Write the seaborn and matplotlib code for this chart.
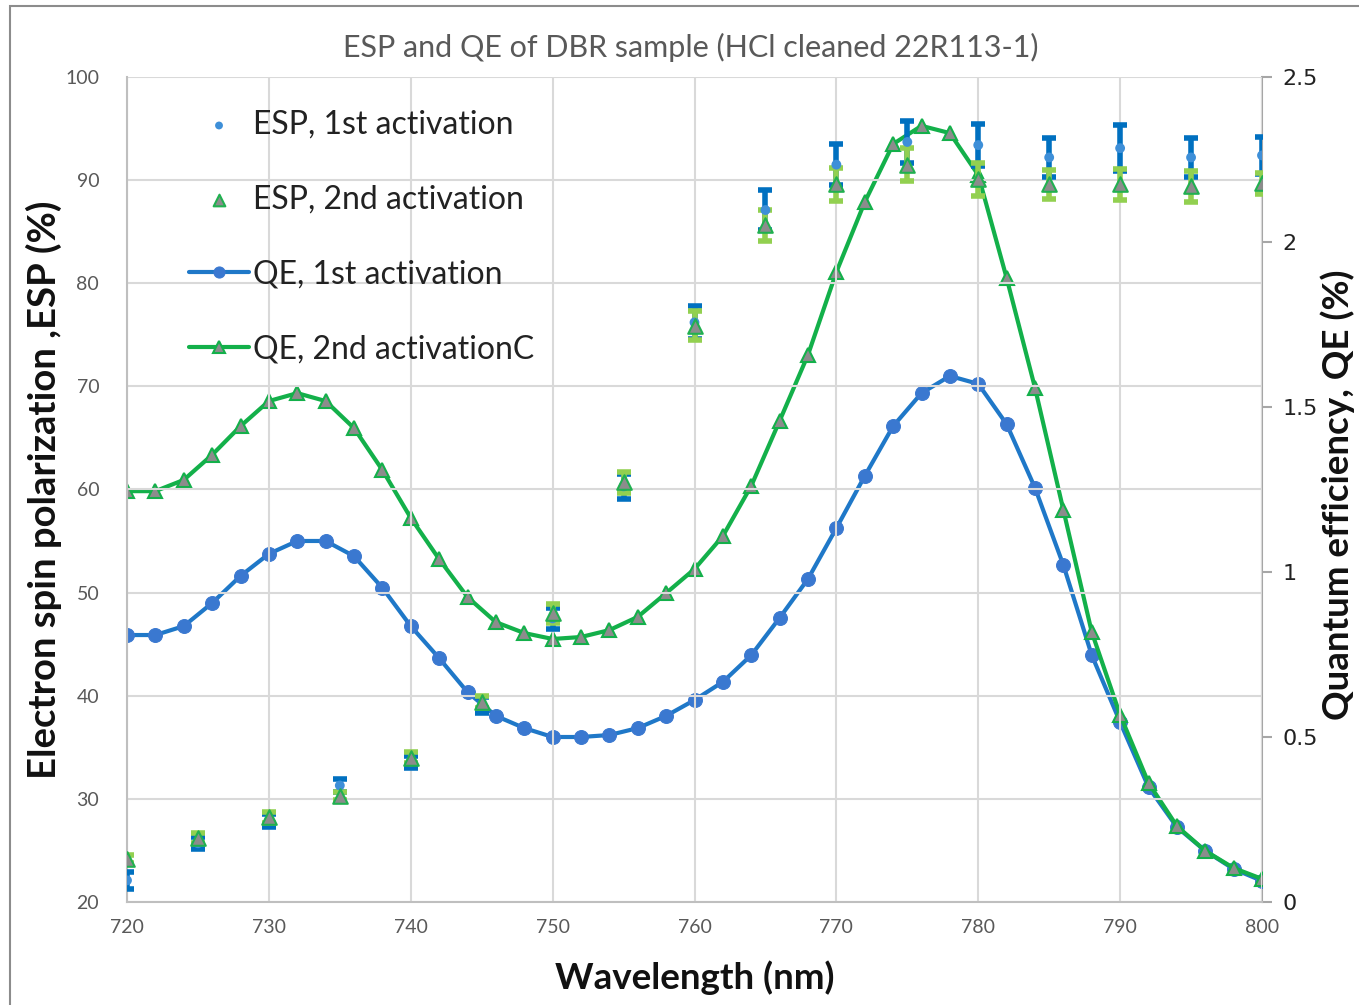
import numpy as np
import pandas as pd
import matplotlib
matplotlib.use("Agg")
import matplotlib.pyplot as plt
from matplotlib.patches import Rectangle
import seaborn as sns

# Quantum efficiency scans (2 nm steps)
qe_wavelength = list(range(720, 801, 2))
qe_first = [0.809, 0.809, 0.836, 0.906, 0.988, 1.055, 1.094, 1.094, 1.048, 0.952,
            0.836, 0.739, 0.636, 0.564, 0.527, 0.500, 0.500, 0.506, 0.527, 0.564,
            0.612, 0.667, 0.748, 0.861, 0.979, 1.133, 1.291, 1.442, 1.542, 1.594,
            1.570, 1.448, 1.255, 1.021, 0.748, 0.545, 0.348, 0.227, 0.155, 0.100,
            0.064]
qe_second = [1.245, 1.245, 1.279, 1.355, 1.442, 1.518, 1.542, 1.518, 1.436, 1.309,
             1.164, 1.039, 0.924, 0.848, 0.815, 0.797, 0.803, 0.824, 0.864, 0.936,
             1.009, 1.109, 1.261, 1.458, 1.658, 1.909, 2.121, 2.297, 2.352, 2.330,
             2.203, 1.891, 1.558, 1.188, 0.818, 0.567, 0.361, 0.230, 0.155, 0.103,
             0.070]

# Spin polarization measurements (5 nm steps)
esp_wavelength = list(range(720, 801, 5))
esp_first = [22.1, 25.7, 27.9, 31.3, 33.6, 39.1, 47.5, 60.3, 76.2, 87.1,
             91.5, 93.7, 93.4, 92.2, 93.1, 92.2, 92.4]
esp_first_err = [0.8, 0.6, 0.6, 0.6, 0.6, 0.8, 1.0, 1.2, 1.6, 1.9,
                 2.0, 2.0, 2.0, 1.9, 2.2, 1.9, 1.8]
esp_second = [24.2, 26.2, 28.2, 30.3, 34.0, 39.4, 48.0, 60.7, 75.9, 85.6,
              89.6, 91.5, 90.1, 89.6, 89.6, 89.4, 89.7]
esp_second_err = [0.4, 0.5, 0.5, 0.4, 0.5, 0.6, 0.9, 1.0, 1.4, 1.5,
                  1.6, 1.6, 1.6, 1.4, 1.5, 1.5, 1.0]

qe_df = pd.DataFrame({"wl": qe_wavelength, "qe1": qe_first, "qe2": qe_second})
esp_df = pd.DataFrame({"wl": esp_wavelength, "esp1": esp_first, "err1": esp_first_err,
                       "esp2": esp_second, "err2": esp_second_err})

sns.set_theme(style="white")
plt.rcParams["font.family"] = ["Lato", "DejaVu Sans"]

BLUE_LINE = "#1F78C8"
BLUE_MARK = "#3A78D0"
BLUE_ERR = "#0070C0"
GREEN_LINE = "#13B04A"
GREEN_ERR = "#92D050"
GRAY_TRI = "#8C8C8C"
GRID = "#D9D9D9"
TICK_GRAY = "#595959"

W, H = 1359, 1005
fig = plt.figure(figsize=(W / 100, H / 100), dpi=100)
ax = fig.add_axes([127 / W, 1 - 902 / H, (1262 - 127) / W, (902 - 77) / H])
ax2 = ax.twinx()

# outer chart border
fig.patches.append(Rectangle((10 / W, -0.01), 1.2, (H - 6) / H + 0.01,
                             transform=fig.transFigure, fill=False,
                             edgecolor="#8C8C8C", linewidth=1.5, zorder=0))

# QE curves on the right axis
sns.lineplot(data=qe_df, x="wl", y="qe1", ax=ax2, color=BLUE_LINE, linewidth=3,
             marker="o", markersize=10, markerfacecolor=BLUE_MARK,
             markeredgecolor=BLUE_MARK, label="QE, 1st activation", legend=False,
             zorder=3)
sns.lineplot(data=qe_df, x="wl", y="qe2", ax=ax2, color=GREEN_LINE, linewidth=3,
             marker="^", markersize=10, markerfacecolor=GRAY_TRI,
             markeredgecolor=GREEN_LINE, markeredgewidth=1.5,
             label="QE, 2nd activationC", legend=False, zorder=3)

# ESP error bars and points on the left axis (drawn above the QE curves)
ax.set_zorder(ax2.get_zorder() + 1)
ax.patch.set_visible(False)
ax.errorbar(esp_df["wl"], esp_df["esp1"], yerr=esp_df["err1"], fmt="none",
            ecolor=BLUE_ERR, elinewidth=4, capsize=5, capthick=4, zorder=4)
ax.errorbar(esp_df["wl"], esp_df["esp2"], yerr=esp_df["err2"], fmt="none",
            ecolor=GREEN_ERR, elinewidth=4, capsize=5, capthick=4, zorder=5)
sns.scatterplot(data=esp_df, x="wl", y="esp1", ax=ax, color="#3E8FD8", s=50,
                edgecolor="none", label="ESP, 1st activation", legend=False,
                zorder=6)
sns.scatterplot(data=esp_df, x="wl", y="esp2", ax=ax, marker="^", s=110,
                color=GRAY_TRI, edgecolor="#21B050", linewidth=1.5,
                label="ESP, 2nd activation", legend=False, zorder=7)

# limits and ticks
ax.set_xlim(720, 800)
ax.set_ylim(20, 100)
ax2.set_ylim(0, 2.5)
ax.set_xticks(np.arange(720, 801, 10))
ax.set_yticks(np.arange(20, 101, 10))
ax2.set_yticks([0, 0.5, 1, 1.5, 2, 2.5])
ax2.set_yticklabels(["0", "0.5", "1", "1.5", "2", "2.5"])

ax.grid(True, color=GRID, linewidth=1.5)
ax.set_axisbelow(True)
for a in (ax, ax2):
    a.spines["top"].set_visible(False)
ax.spines["right"].set_visible(False)
ax2.spines["left"].set_visible(False)
ax2.spines["bottom"].set_visible(False)
ax.spines["left"].set_color("#BFBFBF")
ax.spines["bottom"].set_color("#BFBFBF")
ax.spines["left"].set_linewidth(1.5)
ax.spines["bottom"].set_linewidth(1.5)
ax2.spines["right"].set_color("#A6A6A6")
ax2.spines["right"].set_linewidth(1.5)

ax.tick_params(axis="both", length=0, labelsize=14, labelcolor=TICK_GRAY, pad=12)
ax.tick_params(axis="y", pad=20)
ax2.tick_params(axis="y", length=7, width=1.5, color="#A6A6A6", labelsize=16,
                labelcolor="#222222", pad=8, direction="out")
for lbl in ax2.get_yticklabels():
    lbl.set_family(["DejaVu Sans"])
ax.set_xlabel("")
ax.set_ylabel("")
ax2.set_ylabel("")

# axis titles placed in figure coordinates
fig.text(695 / W, 1 - 978 / H, "Wavelength (nm)", ha="center", va="center",
         fontsize=26.5, fontweight="bold", color="#111111")
fig.text(44 / W, 1 - 490 / H, "Electron spin polarization ,ESP (%)",
         ha="center", va="center", rotation=90, fontsize=27.5,
         fontweight="bold", color="#111111")
fig.text(1338 / W, 1 - 495 / H, "Quantum efficiency, QE (%)",
         ha="center", va="center", rotation=90, fontsize=26.5,
         fontweight="bold", color="#111111")

fig.text(0.508, 1 - 47 / H, "ESP and QE of DBR sample (HCl cleaned 22R113-1)",
         ha="center", va="center", fontsize=22, color=TICK_GRAY)

# legend combining both axes
h1, l1 = ax.get_legend_handles_labels()
h2, l2 = ax2.get_legend_handles_labels()
leg = ax.legend(h1 + h2, l1 + l2, loc="upper left",
                bbox_to_anchor=(0.029, 0.995), frameon=False, fontsize=23,
                labelspacing=1.4, handlelength=1.9, handletextpad=0.1,
                markerscale=0.8)
for t in leg.get_texts():
    t.set_color("#222222")

fig.savefig("out.png", dpi=100, facecolor="white")
